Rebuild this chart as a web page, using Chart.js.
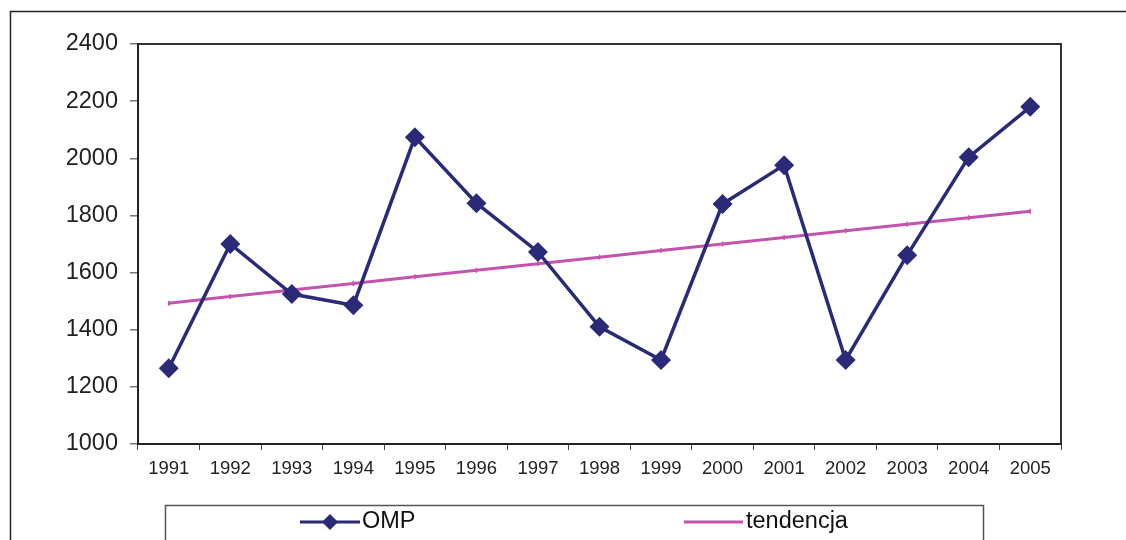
<!DOCTYPE html>
<html>
<head>
<meta charset="utf-8">
<script src="https://cdn.jsdelivr.net/npm/chart.js@4"></script>
<style>
  html, body { margin: 0; padding: 0; background: #fff; }
  #wrap { width: 1126px; height: 540px; position: relative; }
</style>
</head>
<body>
<div id="wrap"><canvas id="chart-canvas" width="1126" height="540"></canvas></div>
<script>
// data
const years = ['1991', '1992', '1993', '1994', '1995', '1996', '1997', '1998',
  '1999', '2000', '2001', '2002', '2003', '2004', '2005'];
const ompValues = [1265, 1700, 1525, 1486, 2074, 1843, 1672, 1410,
  1294, 1840, 1976, 1294, 1661, 2004, 2180];
const trendValues = [1493, 1516, 1539, 1562, 1585, 1608, 1631, 1654,
  1677, 1700, 1723, 1746, 1769, 1792, 1815];
const yTicks = [1000, 1200, 1400, 1600, 1800, 2000, 2200, 2400];

const NAVY = '#2a2a78';
const PINK = '#c453ad';
const FONT = "'Liberation Sans', Arial, sans-serif";

// outer frame, plot box and the boxed legend
const framePlugin = {
  id: 'frame',
  beforeDraw(chart) {
    const ctx = chart.ctx;
    ctx.save();
    ctx.strokeStyle = '#222';
    ctx.lineWidth = 1.5;
    ctx.beginPath();
    ctx.moveTo(10.5, 540);
    ctx.lineTo(10.5, 11.5);
    ctx.lineTo(1126, 11.5);
    ctx.stroke();
    ctx.restore();
  },
  afterDraw(chart) {
    const ctx = chart.ctx;
    const a = chart.chartArea;
    ctx.save();
    ctx.strokeStyle = '#333';
    ctx.lineWidth = 2;
    ctx.beginPath();
    ctx.moveTo(a.left, a.top);
    ctx.lineTo(a.right, a.top);
    ctx.lineTo(a.right, a.bottom);
    ctx.stroke();

    // legend box
    ctx.strokeStyle = '#555';
    ctx.lineWidth = 1.5;
    ctx.beginPath();
    ctx.moveTo(165.5, 541);
    ctx.lineTo(165.5, 505.5);
    ctx.lineTo(983.5, 505.5);
    ctx.lineTo(983.5, 541);
    ctx.stroke();

    const ly = 522;
    ctx.font = '23.5px ' + FONT;
    ctx.textBaseline = 'middle';

    ctx.strokeStyle = NAVY;
    ctx.lineWidth = 3;
    ctx.beginPath();
    ctx.moveTo(300, ly);
    ctx.lineTo(360, ly);
    ctx.stroke();
    ctx.fillStyle = NAVY;
    ctx.beginPath();
    ctx.moveTo(330, ly - 8);
    ctx.lineTo(338, ly);
    ctx.lineTo(330, ly + 8);
    ctx.lineTo(322, ly);
    ctx.closePath();
    ctx.fill();
    ctx.fillStyle = '#111';
    ctx.fillText('OMP', 362, ly);

    ctx.strokeStyle = PINK;
    ctx.lineWidth = 3;
    ctx.beginPath();
    ctx.moveTo(684, ly);
    ctx.lineTo(743, ly);
    ctx.stroke();
    ctx.fillText('tendencja', 746, ly);
    ctx.restore();
  }
};

const ctx = document.getElementById('chart-canvas').getContext('2d');
new Chart(ctx, {
  type: 'line',
  data: {
    labels: years,
    datasets: [
      {
        label: 'tendencja',
        data: trendValues,
        borderColor: PINK,
        backgroundColor: PINK,
        borderWidth: 3,
        pointStyle: 'line',
        rotation: 90,
        pointRadius: 2.5,
        pointBorderWidth: 1.5,
        tension: 0,
        order: 2
      },
      {
        label: 'OMP',
        data: ompValues,
        borderColor: NAVY,
        backgroundColor: NAVY,
        borderWidth: 3.5,
        pointStyle: 'rectRot',
        pointRadius: 10,
        pointBorderWidth: 0,
        tension: 0,
        order: 1
      }
    ]
  },
  options: {
    responsive: false,
    animation: false,
    layout: { padding: { left: 10, right: 65, top: 44, bottom: 56 } },
    plugins: {
      legend: { display: false },
      tooltip: { enabled: false }
    },
    scales: {
      x: {
        offset: true,
        grid: {
          offset: true,
          drawOnChartArea: false,
          tickLength: 6,
          color: '#444',
          lineWidth: 1
        },
        border: { color: '#222', width: 2 },
        ticks: {
          color: '#222',
          font: { family: FONT, size: 18.5 },
          padding: 8,
          maxRotation: 0
        },
        afterFit(scale) { scale.height = 40; }
      },
      y: {
        min: 1000,
        max: 2400,
        afterBuildTicks(scale) {
          scale.ticks = yTicks.map(v => ({ value: v }));
        },
        grid: {
          drawOnChartArea: false,
          tickLength: 8,
          color: '#777',
          lineWidth: 1.5
        },
        border: { color: '#222', width: 2 },
        ticks: {
          color: '#222',
          font: { family: FONT, size: 23.5 },
          padding: 12,
          callback: v => String(v)
        },
        afterFit(scale) { scale.width = 128; }
      }
    }
  },
  plugins: [framePlugin]
});
</script>
</body>
</html>
